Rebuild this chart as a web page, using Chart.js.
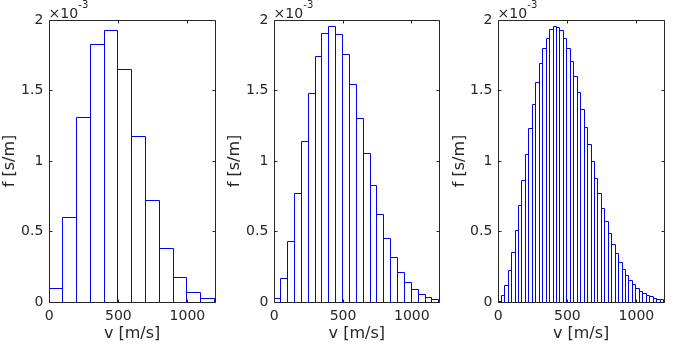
<!DOCTYPE html>
<html>
<head>
<meta charset="utf-8">
<script src="https://cdn.jsdelivr.net/npm/chart.js@4/dist/chart.umd.min.js"></script>
<style>
  html, body { margin: 0; padding: 0; background: #ffffff; }
  #wrap { position: relative; width: 675px; height: 345px; }
  #wrap canvas { position: absolute; top: 0; }
</style>
</head>
<body>
<div id="wrap">
  <canvas id="h1" width="225" height="345" style="left:0px"></canvas>
  <canvas id="h2" width="225" height="345" style="left:225px"></canvas>
  <canvas id="h3" width="225" height="345" style="left:450px"></canvas>
</div>
<script>
// Speed distributions f(v), in units of 1e-3 s/m, for three bin widths.
const xTicks = [0, 500, 1000];
const yTicks = [0, 0.5, 1, 1.5, 2];
const yExponent = '-3';
const xTitle = 'v [m/s]';
const yTitle = 'f [s/m]';

const binWidth1 = 100;
const f1 = [0.10, 0.60, 1.31, 1.83, 1.93, 1.65, 1.18, 0.72, 0.38, 0.175, 0.071, 0.026];

const binWidth2 = 50;
const f2 = [0.026, 0.168, 0.43, 0.773, 1.14, 1.48, 1.742, 1.905, 1.955, 1.90, 1.76, 1.544,
            1.305, 1.055, 0.828, 0.622, 0.453, 0.317, 0.21, 0.14, 0.09, 0.055, 0.033, 0.019];

const binWidth3 = 25;
const f3 = [0.009, 0.047, 0.118, 0.225, 0.352, 0.508, 0.686, 0.865, 1.047, 1.232, 1.404, 1.558,
            1.693, 1.801, 1.875, 1.934, 1.960, 1.953, 1.931, 1.872, 1.801, 1.707, 1.600, 1.487,
            1.366, 1.239, 1.118, 1.000, 0.877, 0.771, 0.664, 0.572, 0.487, 0.411, 0.348, 0.281,
            0.232, 0.189, 0.154, 0.125, 0.099, 0.078, 0.064, 0.050, 0.040, 0.026, 0.019, 0.019];

const FONT = '"DejaVu Sans", sans-serif';
const INK = '#262626';
const EDGE = '#0000ff';
const TICK_LEN = 3;

function alignPx(v) { return Math.round(v - 0.5) + 0.5; }

// Outlines each bin as a 1px rectangle and draws a boxed frame with inward ticks.
const boxedHistogram = {
  id: 'boxedHistogram',
  afterDatasetsDraw(chart) {
    const ctx = chart.ctx;
    const area = chart.chartArea;
    const meta = chart.getDatasetMeta(0);
    ctx.save();
    ctx.beginPath();
    ctx.rect(area.left, area.top - 1, area.right - area.left + 1, area.bottom - area.top + 2);
    ctx.clip();
    ctx.strokeStyle = EDGE;
    ctx.lineWidth = 1;
    ctx.beginPath();
    meta.data.forEach(el => {
      const p = el.getProps(['x', 'y', 'base', 'width'], true);
      const l = Math.floor(p.x - p.width / 2 - 0.5) + 0.5;
      const r = Math.floor(p.x + p.width / 2 - 0.5) + 0.5;
      const t = Math.round(p.y) + 0.5;
      const b = Math.round(p.base) + 0.5;
      ctx.moveTo(l, b); ctx.lineTo(l, t); ctx.lineTo(r, t); ctx.lineTo(r, b);
    });
    ctx.stroke();
    ctx.restore();
  },
  afterDraw(chart) {
    const ctx = chart.ctx;
    const area = chart.chartArea;
    const sx = chart.scales.x, sy = chart.scales.y;
    const L = alignPx(area.left), R = alignPx(area.right);
    const T = alignPx(area.top), B = alignPx(area.bottom);
    ctx.save();
    ctx.strokeStyle = INK;
    ctx.lineWidth = 1;
    ctx.beginPath();
    ctx.moveTo(L, T); ctx.lineTo(R, T); ctx.lineTo(R, B); ctx.lineTo(L, B); ctx.closePath();
    sx.ticks.forEach(t => {
      const x = alignPx(sx.getPixelForValue(t.value));
      ctx.moveTo(x, B); ctx.lineTo(x, B - TICK_LEN);
      ctx.moveTo(x, T); ctx.lineTo(x, T + TICK_LEN);
    });
    sy.ticks.forEach(t => {
      const y = alignPx(sy.getPixelForValue(t.value));
      ctx.moveTo(L, y); ctx.lineTo(L + TICK_LEN, y);
      ctx.moveTo(R, y); ctx.lineTo(R - TICK_LEN, y);
    });
    ctx.stroke();

    // axis multiplier  ×10^-3
    ctx.fillStyle = INK;
    ctx.textBaseline = 'alphabetic';
    ctx.textAlign = 'left';
    ctx.font = '14px ' + FONT;
    const base = '\u00d710';
    const x0 = area.left - 0.8;
    ctx.fillText(base, x0, 17.5);
    const w = ctx.measureText(base).width;
    ctx.font = '10px ' + FONT;
    ctx.fillText(yExponent, x0 + w + 0.3, 8);
    ctx.restore();
  }
};

function makeHistogram(id, values, binWidth, yAxisWidth, rightPad) {
  const points = values.map((v, i) => ({ x: binWidth * (i + 0.5), y: v }));
  return new Chart(document.getElementById(id), {
    type: 'bar',
    data: {
      datasets: [{
        data: points,
        backgroundColor: '#ffffff',
        borderWidth: 0,
        barPercentage: 1,
        categoryPercentage: 1
      }]
    },
    options: {
      responsive: false,
      maintainAspectRatio: false,
      devicePixelRatio: 1,
      animation: false,
      layout: { padding: { top: 20, right: rightPad, left: 0, bottom: 0 } },
      plugins: { legend: { display: false }, tooltip: { enabled: false } },
      scales: {
        x: {
          type: 'linear',
          min: 0,
          max: 1200,
          offset: false,
          afterBuildTicks: s => { s.ticks = xTicks.map(v => ({ value: v })); },
          afterFit: s => { s.height = 43; },
          grid: { display: false, drawTicks: false, offset: false },
          border: { display: false },
          ticks: {
            padding: 6, color: INK, maxRotation: 0, autoSkip: false,
            font: { family: FONT, size: 14 },
            callback: v => String(v)
          },
          title: {
            display: true, text: xTitle, color: INK,
            font: { family: FONT, size: 16 },
            padding: { top: 0, bottom: 1.4 }
          }
        },
        y: {
          type: 'linear',
          min: 0,
          max: 2,
          afterBuildTicks: s => { s.ticks = yTicks.map(v => ({ value: v })); },
          afterFit: s => { s.width = yAxisWidth; },
          grid: { display: false, drawTicks: false },
          border: { display: false },
          ticks: {
            padding: 6, color: INK,
            font: { family: FONT, size: 14 },
            callback: v => String(v)
          },
          title: {
            display: true, text: yTitle, color: INK,
            font: { family: FONT, size: 16 },
            padding: { top: 0.4, bottom: 0 }
          }
        }
      }
    },
    plugins: [boxedHistogram]
  });
}

makeHistogram('h1', f1, binWidth1, 49.3, 10);
makeHistogram('h2', f2, binWidth2, 49.3, 10.7);
makeHistogram('h3', f3, binWidth3, 48.3, 11);
</script>
</body>
</html>
